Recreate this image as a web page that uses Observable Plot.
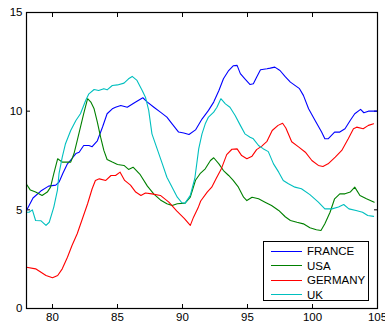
<!DOCTYPE html>
<html>
<head>
<meta charset="utf-8">
<script src="https://cdn.jsdelivr.net/npm/d3@7"></script>
<script src="https://cdn.jsdelivr.net/npm/@observablehq/plot@0.6"></script>
<style>
  html, body { margin: 0; padding: 0; background: white; }
  #wrap { position: relative; width: 385px; height: 325px; font-family: "Liberation Sans", Arial, sans-serif; }
  #legend { position: absolute; left: 263px; top: 241px; width: 104px; height: 58px; border: 1px solid black; background: white; }
  .row { position: absolute; left: 0; height: 14px; width: 104px; }
  .sw { position: absolute; left: 7px; top: 6.5px; width: 31px; height: 0; border-top: 1.2px solid; }
  .lb { position: absolute; left: 43px; top: 0; font-size: 11.5px; line-height: 14px; color: black; }
</style>
</head>
<body>
<div id="wrap"></div>
<script>
const countries = ["FRANCE", "USA", "GERMANY", "UK"];
const colors = ["#0000ff", "#008000", "#ff0000", "#00bfbf"];
const xTicks = [80, 85, 90, 95, 100, 105];
const yTicks = [0, 5, 10, 15];

const franceT = [78, 78.5, 79.1, 79.7, 80.25, 80.5, 80.8, 81.15, 81.5, 81.8, 82.05, 82.4, 82.8, 83.05, 83.45, 83.85, 84.2, 84.6, 84.85, 85.25, 85.75, 86.4, 86.95, 87.3, 87.8, 88.3, 88.8, 89.2, 89.7, 90.1, 90.5, 91.0, 91.5, 92.0, 92.4, 92.8, 93.15, 93.55, 93.9, 94.2, 94.45, 94.8, 95.2, 95.45, 95.7, 96.0, 96.5, 96.75, 97.1, 97.5, 97.9, 98.3, 99.0, 99.3, 99.7, 100.2, 100.7, 100.95, 101.2, 101.7, 102.1, 102.5, 102.9, 103.25, 103.7, 103.95, 104.3, 105];
const franceV = [4.97, 5.6, 5.95, 6.2, 6.25, 6.4, 6.85, 7.33, 7.6, 7.85, 7.92, 8.26, 8.26, 8.2, 8.5, 9.2, 9.87, 10.12, 10.2, 10.29, 10.2, 10.46, 10.68, 10.46, 10.2, 9.95, 9.7, 9.36, 8.94, 8.89, 8.82, 9.05, 9.6, 10.04, 10.46, 11.05, 11.64, 12.06, 12.3, 12.32, 11.9, 11.64, 11.35, 11.39, 11.72, 12.1, 12.15, 12.18, 12.23, 12.06, 11.75, 11.47, 11.14, 10.8, 10.12, 9.53, 8.94, 8.6, 8.6, 8.94, 8.94, 9.11, 9.53, 9.87, 10.09, 9.92, 10.0, 10.0];

const usaT = [78, 78.3, 78.7, 79.2, 79.6, 79.85, 80.1, 80.4, 80.75, 81.4, 81.65, 81.9, 82.15, 82.4, 82.7, 82.95, 83.2, 83.45, 83.7, 83.95, 84.2, 84.6, 85.0, 85.5, 85.85, 86.2, 86.75, 87.3, 87.8, 88.3, 88.8, 89.2, 89.6, 90.2, 90.6, 91.0, 91.35, 91.75, 92.15, 92.4, 92.8, 93.15, 93.55, 93.9, 94.3, 94.7, 94.95, 95.35, 95.85, 96.35, 96.85, 97.4, 97.9, 98.3, 98.8, 99.3, 99.8, 100.3, 100.65, 100.95, 101.35, 101.7, 102.1, 102.5, 102.9, 103.25, 103.65, 104.15, 104.75];
const usaV = [6.3, 6.0, 5.9, 5.73, 5.9, 6.15, 6.83, 7.59, 7.42, 7.42, 7.84, 8.51, 9.19, 9.87, 10.63, 10.46, 10.12, 9.44, 8.68, 8.01, 7.55, 7.42, 7.3, 7.25, 7.05, 7.16, 6.78, 6.2, 5.8, 5.5, 5.31, 5.22, 5.31, 5.34, 5.64, 6.5, 6.83, 7.08, 7.5, 7.64, 7.33, 6.99, 6.74, 6.49, 6.15, 5.64, 5.47, 5.64, 5.56, 5.39, 5.22, 4.97, 4.65, 4.46, 4.37, 4.29, 4.09, 3.99, 3.95, 4.29, 4.88, 5.56, 5.81, 5.81, 5.9, 6.15, 5.73, 5.56, 5.39];

const germanyT = [78, 78.7, 79.5, 80.0, 80.4, 80.75, 81.15, 81.5, 81.9, 82.3, 82.7, 83.05, 83.3, 83.6, 84.1, 84.5, 84.85, 85.2, 85.55, 86.0, 86.4, 86.8, 87.15, 87.65, 88.3, 88.95, 89.55, 90.15, 90.6, 90.85, 91.2, 91.4, 91.9, 92.25, 92.6, 93.0, 93.4, 93.8, 94.2, 94.55, 94.95, 95.35, 95.7, 96.1, 96.5, 96.9, 97.35, 97.7, 97.95, 98.4, 98.95, 99.45, 99.95, 100.45, 100.8, 101.2, 101.75, 102.25, 102.75, 103.15, 103.4, 103.9, 104.3, 104.7];
const germanyV = [2.09, 2.01, 1.67, 1.56, 1.67, 2.01, 2.6, 3.19, 3.79, 4.55, 5.31, 6.07, 6.49, 6.57, 6.49, 6.74, 6.74, 6.91, 6.49, 6.25, 5.9, 5.73, 5.85, 5.81, 5.73, 5.39, 4.95, 4.55, 4.21, 4.63, 5.1, 5.45, 5.9, 6.15, 6.6, 7.1, 7.8, 8.07, 8.09, 7.75, 7.59, 7.72, 8.05, 8.23, 8.47, 9.02, 9.28, 9.39, 9.15, 8.45, 8.18, 7.92, 7.5, 7.25, 7.2, 7.33, 7.67, 8.01, 8.6, 9.11, 9.19, 9.11, 9.28, 9.36];

const ukT = [78, 78.2, 78.45, 78.7, 79.1, 79.5, 79.75, 80.1, 80.38, 80.5, 80.75, 81.0, 81.4, 81.8, 82.15, 82.55, 82.8, 83.2, 83.55, 83.95, 84.2, 84.6, 85.0, 85.5, 85.85, 86.13, 86.5, 86.9, 87.15, 87.4, 87.65, 88.05, 88.45, 88.8, 89.2, 89.6, 89.95, 90.2, 90.6, 90.95, 91.25, 91.5, 91.75, 92.0, 92.4, 92.65, 92.95, 93.3, 93.65, 94.05, 94.45, 94.8, 95.2, 95.45, 95.85, 96.2, 96.6, 97.0, 97.4, 97.75, 98.15, 98.65, 99.15, 99.8, 100.45, 100.95, 101.5, 102.0, 102.4, 102.8, 103.35, 103.85, 104.25, 104.7];
const ukV = [4.88, 4.88, 5.0, 4.46, 4.45, 4.21, 4.37, 5.14, 6.0, 6.83, 7.67, 8.35, 9.02, 9.53, 9.87, 10.54, 10.88, 11.1, 11.05, 11.14, 11.08, 11.3, 11.33, 11.42, 11.64, 11.76, 11.56, 11.05, 10.71, 10.04, 8.85, 8.09, 7.33, 6.65, 6.15, 5.64, 5.36, 5.34, 5.73, 6.6, 8.1, 8.85, 9.36, 9.7, 9.95, 10.2, 10.63, 10.37, 10.2, 9.78, 9.28, 8.85, 8.68, 8.6, 8.26, 8.1, 7.95, 7.33, 6.91, 6.49, 6.32, 6.15, 6.07, 5.77, 5.39, 5.05, 5.05, 5.14, 5.27, 5.05, 4.97, 4.88, 4.71, 4.67];

const seriesT = [franceT, usaT, germanyT, ukT];
const seriesV = [franceV, usaV, germanyV, ukV];
const rows = countries.flatMap((c, k) => seriesT[k].map((t, i) => ({country: c, t, v: seriesV[k][i]})));

const chart = Plot.plot({
  width: 385,
  height: 325,
  marginLeft: 26,
  marginRight: 8,
  marginTop: 12,
  marginBottom: 17,
  x: {domain: [78, 105]},
  y: {domain: [0, 15]},
  color: {domain: countries, range: colors},
  style: {fontFamily: "'Liberation Sans', Arial, sans-serif", fontSize: "11.5px", color: "black", background: "white", overflow: "visible"},
  marks: [
    Plot.axisX({ticks: xTicks, tickSize: 0, tickPadding: 4, label: null}),
    Plot.axisX({ticks: xTicks, tickSize: -4, fill: "none", label: null}),
    Plot.axisX({anchor: "top", ticks: xTicks, tickSize: -4, fill: "none", label: null}),
    Plot.axisY({ticks: yTicks, tickSize: 0, tickPadding: 4, label: null}),
    Plot.axisY({ticks: yTicks, tickSize: -4, fill: "none", label: null}),
    Plot.axisY({anchor: "right", ticks: yTicks, tickSize: -4, fill: "none", label: null}),
    Plot.lineY(rows, {x: "t", y: "v", z: "country", stroke: "country", strokeWidth: 1.1}),
    Plot.frame({stroke: "black", strokeWidth: 1.2})
  ]
});

const wrap = document.getElementById("wrap");
wrap.appendChild(chart);

const legend = document.createElement("div");
legend.id = "legend";
countries.forEach((c, i) => {
  const row = document.createElement("div");
  row.className = "row";
  row.style.top = (2 + i * 14.6) + "px";
  const sw = document.createElement("span");
  sw.className = "sw";
  sw.style.borderTopColor = colors[i];
  const lb = document.createElement("span");
  lb.className = "lb";
  lb.textContent = c;
  row.appendChild(sw);
  row.appendChild(lb);
  legend.appendChild(row);
});
wrap.appendChild(legend);
</script>
</body>
</html>
